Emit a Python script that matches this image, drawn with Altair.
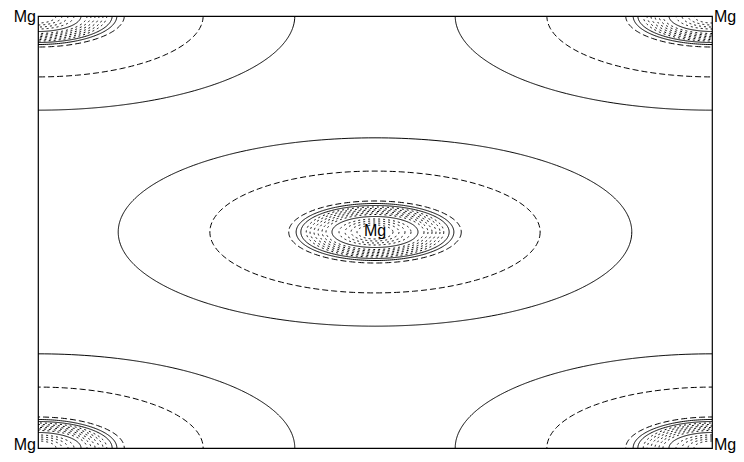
import numpy as np
import pandas as pd
import altair as alt

# Contour levels around each Mg site (semi-axes as fraction of cell width / height)
level_a = [0.381, 0.245, 0.128, 0.117, 0.110, 0.102, 0.0964, 0.0905, 0.0846,
           0.0786, 0.0727, 0.0638, 0.0534, 0.0445, 0.0356, 0.0267]
level_b = [0.218, 0.141, 0.0718, 0.066, 0.0613, 0.0579, 0.0544, 0.0509, 0.0475,
           0.044, 0.0405, 0.0359, 0.0301, 0.0255, 0.0208, 0.0162]
level_style = ["solid", "dashed", "dashed", "solid", "solid", "dotted", "dotted",
               "dotted", "dotted", "dotted", "dotted", "solid", "dotted", "dotted",
               "dotted", "dotted"]

# Mg sites (fractional cell coordinates)
site_x = [0.5, 0.0, 1.0, 0.0, 1.0]
site_y = [0.5, 0.0, 0.0, 1.0, 1.0]

label_text = ["Mg", "Mg", "Mg", "Mg", "Mg"]

rows = []
theta = np.linspace(0, 2 * np.pi, 241)
for si, (sx, sy) in enumerate(zip(site_x, site_y)):
    for li, (a, b, st) in enumerate(zip(level_a, level_b, level_style)):
        for k, t in enumerate(theta):
            rows.append({
                "x": sx + a * np.cos(t),
                "y": sy + b * np.sin(t),
                "k": k,
                "curve": f"{si}-{li}",
                "style": st,
            })
df = pd.DataFrame(rows)

xs = alt.Scale(domain=[0, 1], nice=False, zero=False)
ys = alt.Scale(domain=[0, 1], nice=False, zero=False, reverse=True)

lines = alt.Chart(df).mark_line(clip=True, color="black", strokeWidth=1).encode(
    x=alt.X("x:Q", scale=xs, axis=None),
    y=alt.Y("y:Q", scale=ys, axis=None),
    detail="curve:N",
    order="k:Q",
    strokeDash=alt.StrokeDash(
        "style:N",
        scale=alt.Scale(domain=["solid", "dashed", "dotted"],
                        range=[[1, 0], [6, 3], [2, 3]]),
        legend=None,
    ),
)

lab = pd.DataFrame({"x": site_x, "y": site_y, "t": label_text})
lab["pos"] = ["c", "l", "r", "l", "r"]

font = "Liberation Sans"


def txt(sub, align, dx, dy):
    return alt.Chart(sub).mark_text(
        align=align, baseline="alphabetic", dx=dx, dy=dy, fontSize=16,
        font=font, color="black"
    ).encode(x=alt.X("x:Q", scale=xs), y=alt.Y("y:Q", scale=ys), text="t:N")


center = txt(lab[lab.pos == "c"], "center", 0, 4)
left_top = txt(lab[(lab.pos == "l") & (lab.y == 0)], "right", -2, 6)
left_bot = txt(lab[(lab.pos == "l") & (lab.y == 1)], "right", -2, 2)
right_top = txt(lab[(lab.pos == "r") & (lab.y == 0)], "left", 2, 6)
right_bot = txt(lab[(lab.pos == "r") & (lab.y == 1)], "left", 2, 2)

chart = alt.layer(lines, center, left_top, left_bot, right_top, right_bot).properties(
    width=674, height=432,
    autosize=alt.AutoSizeParams(type="none"),
    padding={"left": 30, "top": 8, "right": 24, "bottom": 6},
).configure_view(stroke="black", strokeWidth=1.2)

chart.save("out.html", embed_options={"renderer": "svg", "actions": False})
